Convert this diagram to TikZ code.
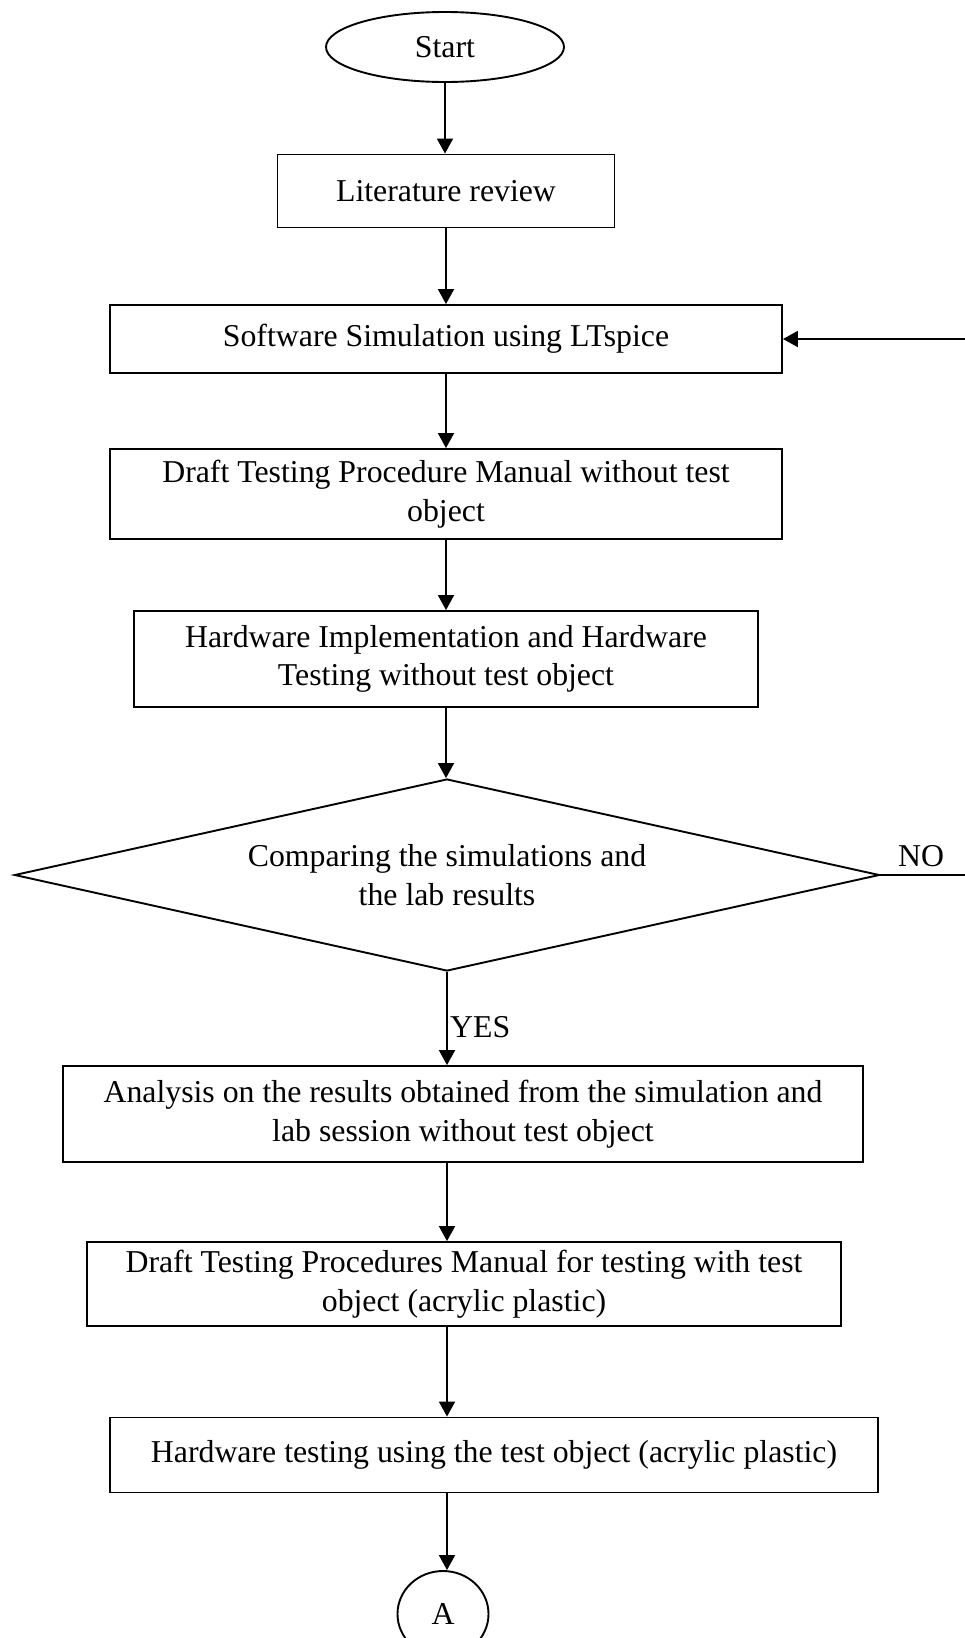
\documentclass[tikz,border=0pt]{standalone}
\usepackage{fontspec}
\setmainfont{Liberation Serif}
\usetikzlibrary{shapes.geometric,arrows.meta}

\tikzset{
  base/.style={draw=black, line width=1.9pt, align=center, inner sep=0pt,
    font=\fontsize{31.8}{38.5}\selectfont},
  stepbox/.style={base, rectangle},
  terminal/.style={base, ellipse},
  decision/.style={base, diamond, aspect=4.5},
  flow/.style={draw=black, line width=1.9pt, -{Triangle[length=15pt,width=16pt]}},
  lbl/.style={font=\fontsize{31.8}{38.5}\selectfont, inner sep=0pt},
}

\begin{document}
\begin{tikzpicture}[x=1pt,y=-1pt]
  \useasboundingbox (0,0) rectangle (965,1638);
  \clip (0,0) rectangle (965,1638);

  % process chain
  \node[terminal, minimum width=238pt, minimum height=70pt] (start) at (445,47) {Start};
  \node[stepbox, minimum width=337pt, minimum height=73pt] (lit) at (446,191) {Literature review};
  \node[stepbox, minimum width=672pt, minimum height=68pt] (sim) at (446,339) {Software Simulation using LTspice};
  \node[stepbox, minimum width=672pt, minimum height=90pt] (man) at (446,494)
    {Draft Testing Procedure Manual without test\\ object};
  \node[stepbox, minimum width=624pt, minimum height=96pt] (hw) at (446,659)
    {Hardware Implementation and Hardware\\ Testing without test object};
  \node[decision, minimum width=865pt, minimum height=192pt] (cmp) at (447,875)
    {Comparing the simulations and\\ the lab results};
  \node[stepbox, minimum width=800pt, minimum height=96pt] (ana) at (463,1114)
    {Analysis on the results obtained from the simulation and\\ lab session without test object};
  \node[stepbox, minimum width=754pt, minimum height=84pt] (man2) at (464,1284)
    {Draft Testing Procedures Manual for testing with test\\ object (acrylic plastic)};
  \node[stepbox, minimum width=768pt, minimum height=75pt] (hwt) at (494,1455)
    {Hardware testing using the test object (acrylic plastic)};
  \node[terminal, minimum width=91pt, minimum height=86pt] (conA) at (443,1614) {A};

  % vertical connectors
  \draw[flow] (start.south) -- (start.south |- lit.north);
  \draw[flow] (lit.south) -- (lit.south |- sim.north);
  \draw[flow] (sim.south) -- (sim.south |- man.north);
  \draw[flow] (man.south) -- (man.south |- hw.north);
  \draw[flow] (hw.south) -- (hw.south |- cmp.north);
  \draw[flow] (cmp.south) -- (cmp.south |- ana.north);
  \draw[flow] (cmp.south |- ana.south) -- (cmp.south |- man2.north);
  \draw[flow] (cmp.south |- man2.south) -- (cmp.south |- hwt.north);
  \draw[flow] (cmp.south |- hwt.south) -- (cmp.south |- conA.north);

  % loop back when results disagree
  \coordinate (loop) at (985,875);
  \draw[flow] (cmp.east) -- (loop) |- (sim.east);

  % branch labels
  \node[lbl, anchor=base] (no) at (921,866) {NO};
  \node[lbl, anchor=base west] (yes) at (450,1037) {YES};
\end{tikzpicture}
\end{document}
